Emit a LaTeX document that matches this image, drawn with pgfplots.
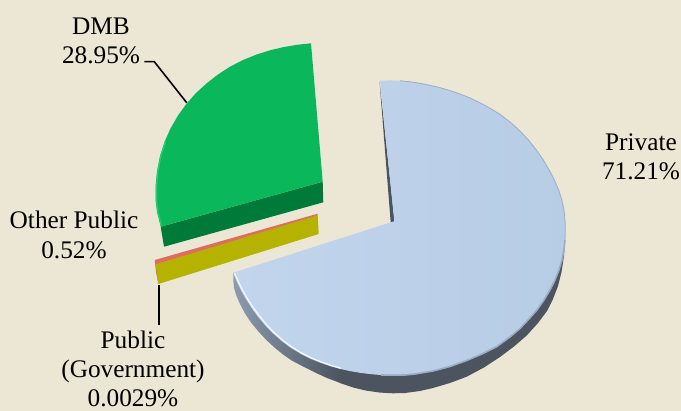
\documentclass[border=0pt]{standalone}
\usepackage{pgfplots}
\pgfplotsset{compat=1.18}
\usepackage{fontspec}
\setmainfont{Liberation Serif}
\definecolor{paper}{RGB}{236,231,212}
\definecolor{faceL}{RGB}{194,213,237}
\definecolor{faceR}{RGB}{183,204,229}
\definecolor{rimL}{RGB}{140,155,175}
\definecolor{rimD}{RGB}{75,84,95}
\definecolor{dmbTop}{RGB}{10,183,90}
\definecolor{dmbSide}{RGB}{0,122,56}
\definecolor{dmbEdge}{RGB}{35,208,115}
\definecolor{govFace}{RGB}{182,178,0}
\definecolor{otherFace}{RGB}{222,108,98}
\newcommand{\lab}[3]{\node[align=center,font=\fontsize{25.3}{29.2}\selectfont,text=black,inner sep=0pt] at (axis cs:#1,#2) {#3};}
\begin{document}
\begin{tikzpicture}
\begin{axis}[
  width=681pt,height=411pt,scale only axis,
  xmin=0,xmax=681,ymin=0,ymax=411,y dir=reverse,
  ticks=none,axis line style={draw=none},
  axis background/.style={fill=paper},
  clip=false,no marks,
]
% Private: rim, lighter left part and dark remainder
\addplot[draw=none,fill=rimD] coordinates {
 (340,360)(340,383)(353,387.5)(366,390.6)(380,392.6)(393,393.3)(405,393)(420,391)(433,388)(450,383)(466.7,376.7)(484,367.5)(500,357)(514,346.5)(526.7,335.5)(538,323)(547,311)(553,299)(558,286)(561.5,272)(564,256)(565,240)(500,250)};
\addplot[draw=none,left color=rimL,right color=rimD] coordinates {
 (233.3,272.7)(233.3,280)(234,288)(236.5,296)(240,304)(245,313.5)(251,322.5)(258,331)(266,339.7)(275,348)(283,354.5)(291.7,360.5)(303,366.5)(315,372.5)(327,378)(341,383.3)(341,360)(300,330)};
% Private: cut wall seen behind the slice
\addplot[draw=none,fill=rimD] coordinates {(379.5,81)(390.7,222.5)(394.5,221.5)};
% Private: top face
\addplot[draw=none,left color=faceL,right color=faceR] coordinates {
 (380,80.7)(390,80.4)(400,80.8)(410,81.8)(420,83.3)(430,85.3)(440,87.7)(450,90.6)(460,94)(470,98)(480,102.8)(490,108.2)(500,114.4)(510,122)(520,131)(528,139.5)(536,149.5)(543,159.5)(550,171.5)(555,181.5)(559,191)(562,200.5)(564,210)(565,220)(565.3,230)(565,240)(564,250)(562,260)(559,270)(555,280)(550,290)(544,300)(537,310)(529,319)(520,328.5)(510,337)(497,346.5)(482,354)(466.7,360.5)(450,366.5)(433,371)(415,374)(405,375)(392,375.2)(381,375)(370,374.1)(360,372.8)(350,371.1)(340,368.9)(330,366.1)(320,362.6)(310,358.6)(300,353.5)(290,347.3)(281,340.5)(272,332.5)(265,325.2)(258,316.8)(252,308.6)(246,299.3)(241.5,291.4)(237,282)(235,277.4)(233.3,272.7)(392.7,221.7)(394.3,221.3)};
% Private: soft outer edge and bright bevel
\addplot[color=rimL!55!faceR,line width=0.9pt] coordinates {
 (400,80.8)(410,81.8)(420,83.3)(430,85.3)(440,87.7)(450,90.6)(460,94)(470,98)(480,102.8)(490,108.2)(500,114.4)(510,122)(520,131)(528,139.5)(536,149.5)(543,159.5)(550,171.5)(555,181.5)(559,191)(562,200.5)(564,210)(565,220)(565.3,230)(565,240)};
\addplot[color=rimL!65!faceR,line width=1.6pt] coordinates {
 (565,240)(564,250)(562,260)(559,270)(555,280)(550,290)(544,300)(537,310)(529,319)(520,328.5)(510,337)(497,346.5)(482,354)(466.7,360.5)(450,366.5)(433,371)(415,374)(405,375)(392,375.2)(381,375)};
\addplot[color=white!85!faceL,line width=1.2pt] coordinates {
 (234.5,273.2)(236.5,277.4)(238.5,282)(243,291)(247.5,298.8)(253.5,308)(259.5,316.2)(266.5,324.6)(273.5,332)(282.5,340)(291.5,346.8)(301.5,353)(311.5,358)(321.5,362)(331.5,365.5)(341,368.2)};
% Other Public: thin slice seen from above
\addplot[draw=none,fill=otherFace] coordinates {(154.7,260)(317.7,213.7)(317.7,215.5)(157.5,268)(158.3,284)(156,272)};
% Public (Government): cut wall
\addplot[draw=none,fill=govFace] coordinates {(155.7,264.3)(317.7,215.3)(318.7,234)(158.3,284)};
% DMB: wall and top face
\addplot[draw=none,fill=dmbSide] coordinates {(160.7,226.7)(322.7,181.7)(323.3,202.3)(164,246.7)};
\addplot[draw=none,fill=dmbTop] coordinates {
 (311,43.3)(297,44.8)(283,47.2)(270,50.3)(256.7,54.5)(243,60)(230,66.7)(218,74.5)(206.7,83.3)(196,93)(186.7,103.5)(178,115.5)(170.5,128.5)(164.5,142)(160,156)(157,171)(155.5,187)(155.5,200)(157,212)(160.7,226.7)(322.7,181.7)};
\addplot[color=dmbEdge,line width=1.2pt] coordinates {
 (161.3,225)(157.9,212)(156.4,200)(156.4,187)(157.9,171)(160.9,156)(165.4,142)};
% Leader lines
\addplot[black,line width=1.6pt] coordinates {(144.3,61.7)(154.3,61.7)(186.7,102.7)};
\addplot[black,line width=1.6pt] coordinates {(159,285)(159,325)};
% Labels
\lab{101}{41}{DMB\\28.95\%}
\lab{74}{235}{Other Public\\0.52\%}
\lab{133}{369}{Public\\(Government)\\0.0029\%}
\lab{641}{157}{Private\\71.21\%}
\end{axis}
\end{tikzpicture}
\end{document}
